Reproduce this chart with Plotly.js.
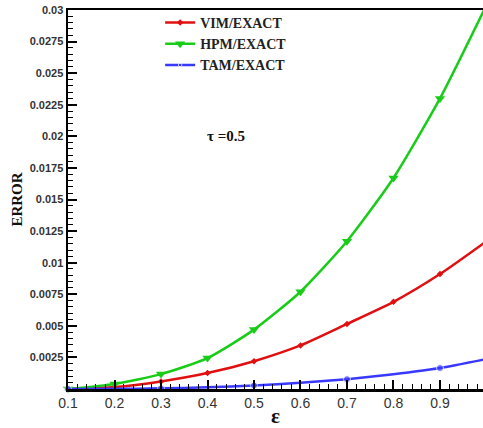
<!DOCTYPE html>
<html>
<head>
<meta charset="utf-8">
<script src="https://cdn.plot.ly/plotly-3.0.1.min.js"></script>
<style>html,body{margin:0;padding:0;background:#fff;}#chart{width:483px;height:428px;}</style>
</head>
<body>
<div id="chart"></div>
<script>
const epsilon = [0.1, 0.2, 0.3, 0.4, 0.5, 0.6, 0.7, 0.8, 0.9, 1.0];
const vimError = [0.0, 0.00015, 0.0006, 0.00126, 0.0022, 0.00345, 0.00515, 0.0069, 0.0091, 0.0117];
const hpmError = [0.0, 0.0004, 0.00118, 0.00245, 0.0047, 0.0077, 0.0117, 0.0167, 0.0230, 0.0304];
const tamError = [0.0, 0.00001, 0.00005, 0.00013, 0.00028, 0.0005, 0.00078, 0.00117, 0.00166, 0.00237];
const seriesNames = ['VIM/EXACT', 'HPM/EXACT', 'TAM/EXACT'];
const yTickVals = [0.0025, 0.005, 0.0075, 0.01, 0.0125, 0.015, 0.0175, 0.02, 0.0225, 0.025, 0.0275, 0.03];
const yTickText = ['0.0025', '0.005', '0.0075', '0.01', '0.0125', '0.015', '0.0175', '0.02', '0.0225', '0.025', '0.0275', '0.03'];
const xTickVals = [0.1, 0.2, 0.3, 0.4, 0.5, 0.6, 0.7, 0.8, 0.9, 1.0];
const xTickText = ['0.1', '0.2', '0.3', '0.4', '0.5', '0.6', '0.7', '0.8', '0.9', '1'];
const annotationText = 'τ =0.5';

// Blue markers drawn on every other point, as in the original
const tamMarkerSize = epsilon.map((_, i) => (i % 2 === 0 ? 7 : 0));

const traces = [
  {
    x: epsilon, y: vimError, name: seriesNames[0], type: 'scatter', mode: 'lines+markers',
    line: {color: '#e01010', width: 2.5, shape: 'spline', smoothing: 0.6},
    marker: {symbol: 'diamond', size: 5, color: '#e01010'},
    cliponaxis: false
  },
  {
    x: epsilon, y: hpmError, name: seriesNames[1], type: 'scatter', mode: 'lines+markers',
    line: {color: '#18cc18', width: 2.5, shape: 'spline', smoothing: 0.6},
    marker: {symbol: 'triangle-down', size: 9, color: '#18cc18'},
    cliponaxis: false
  },
  {
    x: epsilon, y: tamError, name: seriesNames[2], type: 'scatter', mode: 'lines+markers',
    line: {color: '#3838ff', width: 2.5, shape: 'spline', smoothing: 0.6},
    marker: {symbol: 'circle', size: tamMarkerSize, color: '#3838ff'},
    cliponaxis: false
  }
];

const serif = '"Liberation Serif", "Times New Roman", serif';

const layout = {
  width: 483, height: 428,
  margin: {l: 68, r: 0, t: 10, b: 39},
  paper_bgcolor: '#ffffff', plot_bgcolor: '#ffffff',
  showlegend: true,
  legend: {
    x: 0.222, y: 1.008, xanchor: 'left', yanchor: 'top',
    bgcolor: 'rgba(0,0,0,0)',
    font: {family: serif, size: 14, color: '#222', weight: 'bold'},
    tracegroupgap: 0, itemwidth: 30
  },
  xaxis: {
    range: [0.1, 0.9925],
    tickvals: xTickVals, ticktext: xTickText,
    ticks: 'inside', ticklen: 9, tickwidth: 2, tickcolor: '#000',
    minor: {dtick: 0.02, tick0: 0.1, ticks: 'inside', ticklen: 5, tickwidth: 1, tickcolor: '#000'},
    showline: true, linecolor: '#000', linewidth: 2.5, mirror: true,
    showgrid: false, zeroline: false,
    tickfont: {family: '"Liberation Sans", Arial, sans-serif', size: 14, color: '#333'},
    title: {text: 'ε', font: {family: serif, size: 21, color: '#111', weight: 'bold'}, standoff: 1}
  },
  yaxis: {
    range: [0, 0.03],
    tickvals: yTickVals, ticktext: yTickText,
    ticks: 'inside', ticklen: 9, tickwidth: 2, tickcolor: '#000',
    minor: {dtick: 0.0005, tick0: 0, ticks: 'inside', ticklen: 5, tickwidth: 1, tickcolor: '#000'},
    showline: true, linecolor: '#000', linewidth: 2.5, mirror: false,
    showgrid: false, zeroline: false,
    tickfont: {family: '"Liberation Sans", Arial, sans-serif', size: 11, color: '#333', weight: 'bold'},
    title: {text: 'ERROR', font: {family: serif, size: 15, color: '#111', weight: 'bold'}, standoff: 4}
  },
  annotations: [
    {
      text: annotationText, xref: 'paper', yref: 'paper',
      x: (226 - 68) / 415, y: (389 - 126) / 379, showarrow: false,
      font: {family: serif, size: 15, color: '#111', weight: 'bold'}
    }
  ]
};

Plotly.newPlot('chart', traces, layout, {displayModeBar: false, staticPlot: true});
</script>
</body>
</html>
